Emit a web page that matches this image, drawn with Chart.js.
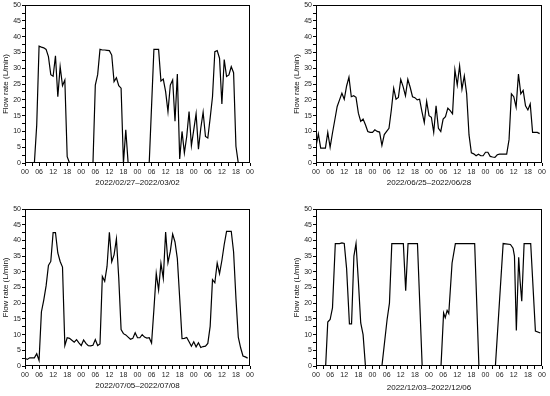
<!DOCTYPE html>
<html>
<head>
<meta charset="utf-8">
<script src="https://cdn.jsdelivr.net/npm/chart.js@4/dist/chart.umd.min.js"></script>
<style>
  html, body { margin: 0; padding: 0; background: #fff; }
  #wrap { position: relative; width: 550px; height: 396px; }
  .cell { position: absolute; width: 275px; height: 198px; }
</style>
</head>
<body>
<div id="wrap">
  <div class="cell" style="left:0;top:0"><canvas id="c1" width="275" height="198"></canvas></div>
  <div class="cell" style="left:275px;top:0"><canvas id="c2" width="275" height="198"></canvas></div>
  <div class="cell" style="left:0;top:198px"><canvas id="c3" width="275" height="198"></canvas></div>
  <div class="cell" style="left:275px;top:198px"><canvas id="c4" width="275" height="198"></canvas></div>
</div>
<script>
// hours since 00:00 of the first day, and flow rate (L/min); null = no data
const febHours = [4,5,6,7,8,9,10,11,12,13,14,15,16,17,18,19, 24,
  29,30,31,32,33,34,35,36,37,38,39,40,41,42,43,44, 48,
  53,55,56,57,58,59,60,61,62,63,64,65,66,67,68,69,70,71,72,73,74,75,76,77,78,79,80,81,82,83,84,85,86,87,88,89,90,91];
const febFlow = [0,12,37,36.7,36.5,36,33.7,28,27.5,34,21,30.5,24.5,26.3,2,0, null,
  0,24.7,28,36,35.8,35.8,35.7,35.6,34.2,25.8,27,24.5,23.7,0,10.5,0, null,
  0,36,36,36,26,26.6,22.6,16.3,24.7,26.3,13.2,28.2,1.3,10,3.2,8.4,16.3,5.5,10.5,15.6,4.4,11,16.1,8.4,7.9,14.2,21,35.3,35.6,33.2,18.7,32.8,27.4,27.9,30.5,28.6,5.3,0];

const hourly = [0,1,2,3,4,5,6,7,8,9,10,11,12,13,14,15,16,17,18,19,20,21,22,23,
  24,25,26,27,28,29,30,31,32,33,34,35,36,37,38,39,40,41,42,43,44,45,46,47,
  48,49,50,51,52,53,54,55,56,57,58,59,60,61,62,63,64,65,66,67,68,69,70,71,
  72,73,74,75,76,77,78,79,80,81,82,83,84,85,86,87,88,89,90,91,92,93,94,95];

const junFlow = [5.3,9.2,4.7,4.7,4.7,9.7,5,9.5,13.7,17.9,
  20,22.1,20.2,24.4,27.2,21,21.3,20.8,15.8,13.2,
  13.9,12.1,10,9.7,9.7,10.5,10,9.8,5.6,9,
  10,11,16.8,23.7,20.2,20.8,26.5,24.2,21.3,26.5,
  24,21,20.7,20,20.2,16.3,12.8,19.5,15,14.5,
  9.7,18.1,11,10,13.9,14.7,17.4,16.6,15.6,29.5,
  24.7,30.8,23.4,27.6,21.9,8.9,3.2,2.9,2.3,2.8,
  2.3,2.3,3.4,3.4,2.1,1.9,1.8,2.6,2.8,2.8,
  2.8,2.8,7.4,21.9,21,17.7,28.2,21.9,23,18.1,
  16.8,18.7,9.7,9.7,9.7,9.3];

const julFlow = [2.4,2.1,2.6,2.6,2.6,3.9,1.8,17.2,21,25.5,
  32,33.3,42.5,42.5,36,33.3,31.5,6.5,9,8.8,
  8.2,7.6,8.4,7.4,6.5,8.3,7.2,6.5,6.4,6.6,
  8.4,6.5,7,28.5,27,31.7,42.6,33.2,35.4,40.5,
  28,11.6,10.3,9.9,9.2,8.5,8.8,10.6,9,9,
  10,9.2,8.9,9,7.3,18,29.5,24.2,32.7,27.9,
  42.7,32.9,36.5,42,39.5,34.2,21.6,8.7,8.8,9.1,
  7.7,6.3,7.7,6.1,7.4,5.9,6.2,6.3,7.2,12.6,
  27.5,26.5,32.8,29.4,33.6,38.7,42.9,42.9,42.9,36.3,
  21.6,9.2,5.8,3.2,2.9,2.5];

const decHours = [4.1,5,6,7,8.2,9,10,11,12,13,14.2,15.1,16.1,17,18,19,20,21, 24.5,
  28,30.2,31.2,32.2,37.1,38.1,39.1,43.1,45.1, 49,
  53.1,54.2,54.9,55.7,56.4,57.8,59.2,67.4,69.2, 72.5,
  76.2,79.5,82.6,83.7,84.3,85.1,86.1,86.7,87.4,88.4,91.2,93.2,95.3];
const decFlow = [0,14,14.8,18.5,39,39,39,39.2,39,31,13.4,13.4,35,39,27,13.7,10,0, null,
  0,14.8,20,39,39,24,39,39,0, null,
  0,16.9,15.4,17.7,16.7,32.8,39,39,0, null,
  0,39,38.7,37.5,35,11.3,34.6,27,20.6,39,39,11.1,10.5];

const ranges = ['2022/02/27\u20132022/03/02', '2022/06/25\u20132022/06/28',
  '2022/07/05\u20132022/07/08', '2022/12/03\u20132022/12/06'];

const FONT = '"Liberation Sans", Arial, sans-serif';

// full box round the plot area
const frame = {
  id: 'frame',
  afterDraw(chart) {
    const { ctx, chartArea: a } = chart;
    ctx.save();
    ctx.strokeStyle = '#000';
    ctx.lineWidth = 1;
    ctx.strokeRect(Math.round(a.left) + 0.5, Math.round(a.top) + 0.5,
      Math.round(a.right - a.left) - 1, Math.round(a.bottom - a.top) - 1);
    ctx.restore();
  }
};

function draw(id, hours, flow, title, pad, xH, xTitlePad) {
  new Chart(document.getElementById(id), {
    type: 'line',
    data: {
      datasets: [{
        data: hours.map((h, i) => ({ x: h, y: flow[i] })),
        borderColor: '#000',
        borderWidth: 1.2,
        pointRadius: 0,
        tension: 0,
        spanGaps: false
      }]
    },
    plugins: [frame],
    options: {
      responsive: false,
      animation: false,
      devicePixelRatio: 1,
      layout: { padding: pad },
      plugins: { legend: { display: false }, tooltip: { enabled: false } },
      scales: {
        x: {
          type: 'linear', min: 0, max: 96,
          afterFit: s => { s.height = xH; },
          border: { display: false },
          grid: { drawOnChartArea: false, tickLength: 3, tickColor: '#000' },
          ticks: {
            stepSize: 3, autoSkip: false, maxRotation: 0, padding: 2,
            color: '#222', font: { family: FONT, size: 7 },
            callback: v => v % 6 === 0 ? String(v % 24).padStart(2, '0') : ''
          },
          title: { display: true, text: title, color: '#111',
            font: { family: FONT, size: 8 }, padding: { top: 0, bottom: xTitlePad } }
        },
        y: {
          min: 0, max: 50,
          afterFit: s => { s.width = 25; },
          border: { display: false },
          grid: { drawOnChartArea: false, tickLength: 3, tickColor: '#000' },
          ticks: {
            stepSize: 2.5, autoSkip: false, padding: 1,
            color: '#222', font: { family: FONT, size: 7 },
            callback: v => v % 5 === 0 ? String(v) : ''
          },
          title: { display: true, text: 'Flow rate (L/min)', color: '#111',
            font: { family: FONT, size: 8 }, padding: { top: 1, bottom: 0 } }
        }
      }
    }
  });
}

draw('c1', febHours, febFlow, ranges[0], { left: 0, right: 25, top: 5, bottom: 0 }, 35, 10);
draw('c2', hourly, junFlow, ranges[1], { left: 16, right: 8, top: 5, bottom: 0 }, 35, 10);
draw('c3', hourly, julFlow, ranges[2], { left: 0, right: 25, top: 11, bottom: 0 }, 30, 5);
draw('c4', decHours, decFlow, ranges[3], { left: 16, right: 8, top: 11, bottom: 0 }, 30, 3);
</script>
</body>
</html>
